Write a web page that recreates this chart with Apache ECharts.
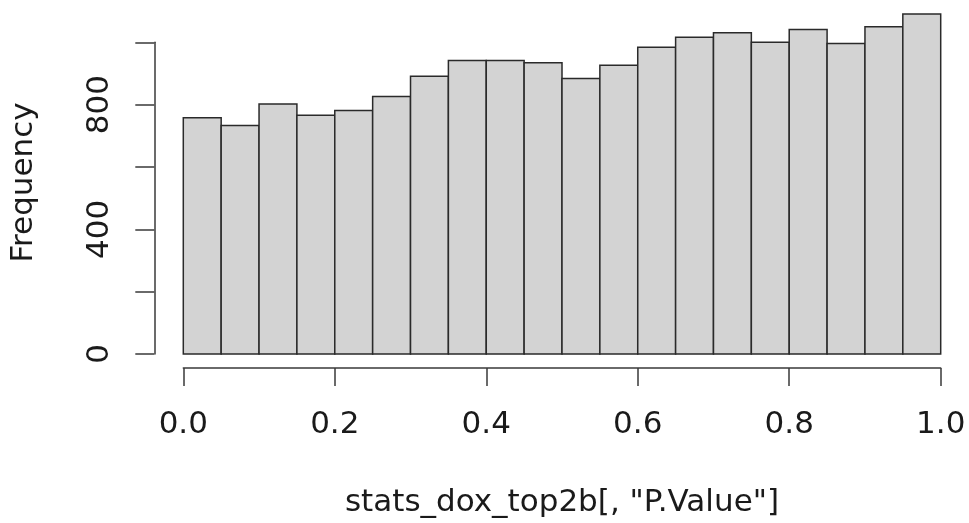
<!DOCTYPE html>
<html>
<head>
  <meta charset="utf-8">
  <script src="https://cdn.jsdelivr.net/npm/echarts@6/dist/echarts.min.js"></script>
  <title>Histogram</title>
  <style>
    html, body { margin: 0; padding: 0; background: #fff; }
    #chart { width: 969px; height: 523px; }
  </style>
</head>
<body>
  <div id="chart"></div>
  <script>
    // histogram bins (left / right edges) and counts
    const binStart = [0.00, 0.05, 0.10, 0.15, 0.20, 0.25, 0.30, 0.35, 0.40, 0.45,
                      0.50, 0.55, 0.60, 0.65, 0.70, 0.75, 0.80, 0.85, 0.90, 0.95];
    const binEnd = [0.05, 0.10, 0.15, 0.20, 0.25, 0.30, 0.35, 0.40, 0.45, 0.50,
                    0.55, 0.60, 0.65, 0.70, 0.75, 0.80, 0.85, 0.90, 0.95, 1.00];
    const counts = [758, 733, 802, 766, 781, 826, 891, 942, 942, 934,
                    884, 926, 984, 1016, 1031, 1000, 1041, 996, 1050, 1091];
    const yLabelsShown = [0, 400, 800];

    const font = "DejaVu Sans";
    const chart = echarts.init(document.getElementById("chart"));

    const option = {
      animation: false,
      backgroundColor: "#fff",
      grid: { left: 183.3, right: 28.3, top: 42.3, bottom: 167 },
      xAxis: {
        type: "value",
        min: 0,
        max: 1,
        interval: 0.2,
        offset: 14,
        axisLine: { show: true, onZero: false, lineStyle: { color: "#3a3a3a", width: 1.5 } },
        axisTick: { show: true, length: 18, lineStyle: { color: "#3a3a3a", width: 1.5 } },
        splitLine: { show: false },
        axisLabel: {
          margin: 41,
          fontFamily: font,
          fontSize: 31,
          color: "#1a1a1a",
          formatter: (v) => v.toFixed(1),
        },
        name: 'stats_dox_top2b[, "P.Value"]',
        nameLocation: "middle",
        nameGap: 119,
        nameTextStyle: { fontFamily: font, fontSize: 31, color: "#1a1a1a" },
      },
      yAxis: {
        type: "value",
        min: 0,
        max: 1000,
        interval: 200,
        offset: 29,
        axisLine: { show: true, onZero: false, lineStyle: { color: "#3a3a3a", width: 1.5 } },
        axisTick: { show: true, length: 19, lineStyle: { color: "#3a3a3a", width: 1.5 } },
        splitLine: { show: false },
        axisLabel: {
          rotate: 90,
          margin: 39,
          fontFamily: font,
          fontSize: 31,
          color: "#1a1a1a",
          formatter: (v) => (yLabelsShown.includes(v) ? String(v) : ""),
        },
      },
      graphic: [
        {
          type: "text",
          x: 24,
          y: 182.5,
          rotation: Math.PI / 2,
          style: {
            text: "Frequency",
            fontFamily: font,
            fontSize: 31,
            fill: "#1a1a1a",
            textAlign: "center",
            textVerticalAlign: "middle",
          },
        },
      ],
      series: [
        {
          type: "custom",
          clip: false,
          data: counts.map((c, i) => [binStart[i], binEnd[i], c]),
          encode: { x: [0, 1], y: 2 },
          renderItem: (params, api) => {
            const p0 = api.coord([api.value(0), 0]);
            const p1 = api.coord([api.value(1), api.value(2)]);
            return {
              type: "rect",
              shape: { x: p0[0], y: p1[1], width: p1[0] - p0[0], height: p0[1] - p1[1] },
              style: { fill: "#d3d3d3", stroke: "#2a2a2a", lineWidth: 1.5 },
            };
          },
        },
      ],
    };

    chart.setOption(option);
  </script>
</body>
</html>
